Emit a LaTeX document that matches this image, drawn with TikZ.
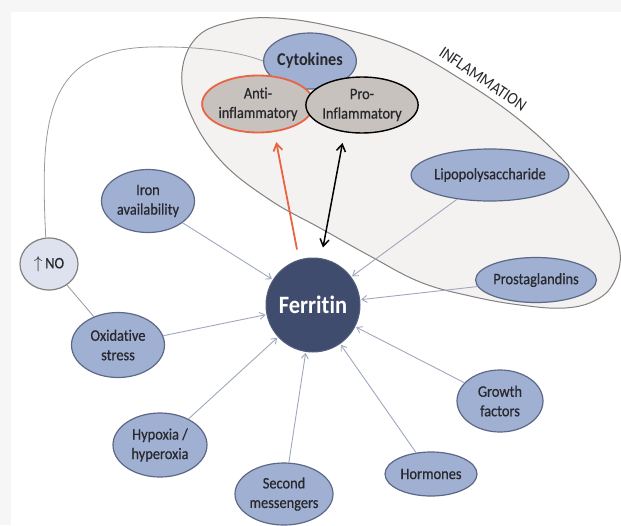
\documentclass[tikz,border=0pt]{standalone}
\usepackage{fontspec}
\setmainfont{Carlito}[FakeStretch=0.9, Ligatures=NoCommon]
\newfontfamily\labelfont{Carlito}[FakeStretch=0.9, FakeBold=0.6, Ligatures=NoCommon]
\usetikzlibrary{arrows.meta,shapes.geometric}
\definecolor{nodefill}{RGB}{160,176,210}
\definecolor{nodedraw}{RGB}{92,104,134}
\definecolor{txt}{RGB}{40,40,45}
\definecolor{ferrfill}{RGB}{64,76,110}
\definecolor{feedc}{RGB}{160,168,188}
\definecolor{inflfill}{RGB}{244,242,240}
\definecolor{inflline}{RGB}{130,128,128}
\definecolor{cytofill}{RGB}{200,194,190}
\definecolor{redc}{RGB}{232,100,66}
\definecolor{nofill}{RGB}{222,226,238}
\begin{document}
\begin{tikzpicture}[x=1pt,y=-1pt,
  bluenode/.style={ellipse, draw=nodedraw, fill=nodefill, line width=1.2pt, inner sep=0pt, align=center, text=txt, font=\labelfont\fontsize{16}{19.5}\selectfont},
  graynode/.style={ellipse, fill=cytofill, line width=1.8pt, inner sep=0pt, align=center, text=txt, font=\labelfont\fontsize{16}{19.5}\selectfont},
  feed/.style={draw=feedc, line width=0.9pt, -{Straight Barb[length=5pt,width=7pt]}, shorten >=1pt, shorten <=0pt},
  plainlink/.style={draw=inflline!80, line width=0.8pt}]
\useasboundingbox (0,0) rectangle (621,525);
\fill[gray!7] (0,0) rectangle (621,525);
\fill[white] (11,12) rectangle (621,525);

% inflammation region
\draw[fill=inflfill, draw=inflline, line width=1pt] plot[smooth cycle, tension=0.65] coordinates {
 (182,72) (198,36) (235,21) (275,18) (330,26) (400,46) (462,80) (522,122) (572,170) (606,218) (620,252) (614,282) (596,300) (565,308) (520,305) (470,296) (420,282) (370,256) (320,228) (270,200) (222,162) (191,115)};
\node[rotate=-34, text=txt, inner sep=0pt, font=\fontsize{17}{18}\selectfont] (infl) at (483,79) {INFLAMMATION};

% nodes
\node[bluenode, minimum width=80pt, minimum height=56pt, font=\fontsize{18}{20}\selectfont\bfseries] (cyto) at (310,61) {Cytokines};
\node[graynode, draw=redc, minimum width=98pt, minimum height=57pt] (anti) at (258,104) {Anti-\\inflammatory};
\node[graynode, draw=black, line width=1.4pt, minimum width=99pt, minimum height=56pt] (pro) at (362,105) {Pro-\\Inflammatory};
\node[bluenode, minimum width=132pt, minimum height=52pt] (lipo) at (490,175) {Lipopolysaccharide};
\node[bluenode, minimum width=108pt, minimum height=45pt] (prost) at (536,280) {Prostaglandins};
\node[circle, fill=ferrfill, draw=ferrfill!90!white, line width=1pt, minimum size=94pt, inner sep=0pt, text=white, font=\fontsize{25}{28}\selectfont\bfseries] (ferr) at (313,305) {Ferritin};
\node[bluenode, minimum width=93pt, minimum height=63pt] (iron) at (148,201) {Iron\\availability};
\node[bluenode, fill=nofill, draw=inflline, minimum width=58pt, minimum height=52pt] (no) at (49,264) {$\uparrow$\,NO};
\node[bluenode, minimum width=93pt, minimum height=65pt] (ox) at (118,345) {Oxidative\\stress};
\node[bluenode, minimum width=94pt, minimum height=64pt] (hyp) at (160,445) {Hypoxia /\\hyperoxia};
\node[bluenode, minimum width=98pt, minimum height=62pt] (sec) at (284,494) {Second\\messengers};
\node[bluenode, minimum width=92pt, minimum height=44pt] (horm) at (431,474) {Hormones};
\node[bluenode, minimum width=86pt, minimum height=62pt] (grow) at (500,401) {Growth\\factors};

% links
\draw[plainlink] (no) -- (ox);
\draw[plainlink] (no.97) .. controls (40,120) and (45,50) .. (150,47) .. controls (200,46) and (240,52) .. (cyto.west);

\foreach \n in {iron,ox,hyp,sec,horm,grow,prost,lipo}
  \draw[feed] (\n) -- (ferr);

\draw[draw=redc, line width=1.8pt, -{Straight Barb[length=7pt,width=9pt]}] ([shift={(-16,-8)}]ferr.north) -- ([shift={(2,10)}]anti.-60);
\draw[draw=black, line width=1.5pt, {Straight Barb[length=7pt,width=9pt]}-{Straight Barb[length=7pt,width=9pt]}] ([shift={(10,-10)}]ferr.north) -- ([shift={(-3.6,10.4)}]pro.-120);
\end{tikzpicture}
\end{document}
